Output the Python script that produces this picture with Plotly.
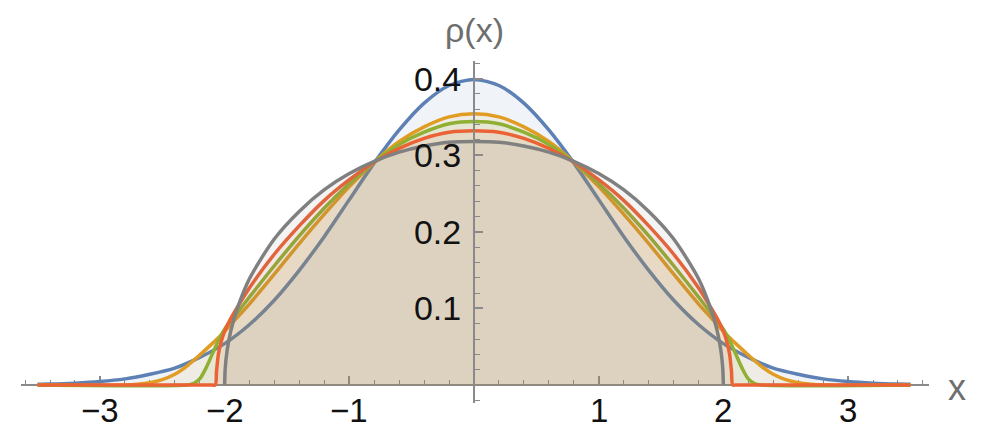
import plotly.graph_objects as go

# ---------------- data ----------------
BLUE_X = [-3.5, -3.4, -3.2, -3.0, -2.8, -2.6, -2.4, -2.2, -2.0, -1.8, -1.6, -1.4, -1.2, -1.0,
          -0.8, -0.6, -0.4, -0.2, 0.0, 0.2, 0.4, 0.6, 0.8, 1.0, 1.2, 1.4, 1.6, 1.8, 2.0,
          2.2, 2.4, 2.6, 2.8, 3.0, 3.2, 3.4, 3.5]
BLUE_Y = [0.0009, 0.0012, 0.0024, 0.0045, 0.008, 0.014, 0.022, 0.036, 0.054, 0.079, 0.111, 0.150,
          0.194, 0.242, 0.290, 0.333, 0.368, 0.391, 0.399, 0.391, 0.368, 0.333, 0.290, 0.242,
          0.194, 0.150, 0.111, 0.079, 0.054, 0.036, 0.022, 0.014, 0.008, 0.0045, 0.0024,
          0.0012, 0.0009]

ORANGE_X = [-3.5, -2.8, -2.7, -2.6, -2.5, -2.4, -2.3, -2.2, -2.1, -2.0, -1.9, -1.8, -1.6, -1.4,
            -1.2, -1.0, -0.8, -0.6, -0.4, -0.2, 0.0, 0.2, 0.4, 0.6, 0.8, 1.0, 1.2, 1.4, 1.6,
            1.8, 1.9, 2.0, 2.1, 2.2, 2.3, 2.4, 2.5, 2.6, 2.7, 2.8, 3.5]
ORANGE_Y = [0.0, 0.0, 0.001, 0.003, 0.007, 0.014, 0.025, 0.039, 0.054, 0.070, 0.088, 0.106,
            0.145, 0.185, 0.223, 0.259, 0.291, 0.318, 0.337, 0.350, 0.354, 0.350, 0.337,
            0.318, 0.291, 0.259, 0.223, 0.185, 0.145, 0.106, 0.088, 0.070, 0.054, 0.039,
            0.025, 0.014, 0.007, 0.003, 0.001, 0.0, 0.0]

GREEN_X = [-3.5, -2.3, -2.25, -2.2, -2.15, -2.1, -2.05, -2.0, -1.9, -1.8, -1.6, -1.4, -1.2,
           -1.0, -0.8, -0.6, -0.4, -0.2, 0.0, 0.2, 0.4, 0.6, 0.8, 1.0, 1.2, 1.4, 1.6, 1.8,
           1.9, 2.0, 2.05, 2.1, 2.15, 2.2, 2.25, 2.3, 3.5]
GREEN_Y = [0.0, 0.0, 0.002, 0.008, 0.022, 0.040, 0.058, 0.073, 0.094, 0.115, 0.156, 0.195,
           0.231, 0.263, 0.291, 0.314, 0.330, 0.341, 0.344, 0.341, 0.330, 0.314, 0.291,
           0.263, 0.231, 0.195, 0.156, 0.115, 0.094, 0.073, 0.058, 0.040, 0.022, 0.008,
           0.002, 0.0, 0.0]

RED_X = [-3.5, -2.1, -2.075, -2.065, -2.05, -2.03, -2.0, -1.95, -1.9, -1.8, -1.6, -1.4, -1.2,
         -1.0, -0.8, -0.6, -0.4, -0.2, 0.0, 0.2, 0.4, 0.6, 0.8, 1.0, 1.2, 1.4, 1.6, 1.8,
         1.9, 1.95, 2.0, 2.03, 2.05, 2.065, 2.075, 2.1, 3.5]
RED_Y = [0.0, 0.0, 0.0, 0.018, 0.040, 0.055, 0.070, 0.087, 0.101, 0.127, 0.171, 0.208, 0.241,
         0.268, 0.291, 0.309, 0.322, 0.330, 0.332, 0.330, 0.322, 0.309, 0.291, 0.268, 0.241,
         0.208, 0.171, 0.127, 0.101, 0.087, 0.070, 0.055, 0.040, 0.018, 0.0, 0.0, 0.0]

GRAY_X = [-2.0, -1.995, -1.98, -1.95, -1.9, -1.8, -1.6, -1.4, -1.2, -1.0, -0.8, -0.6, -0.4,
          -0.2, 0.0, 0.2, 0.4, 0.6, 0.8, 1.0, 1.2, 1.4, 1.6, 1.8, 1.9, 1.95, 1.98, 1.995, 2.0]
GRAY_Y = [0.0, 0.022, 0.045, 0.071, 0.099, 0.139, 0.191, 0.227, 0.255, 0.276, 0.292, 0.304,
          0.312, 0.317, 0.318, 0.317, 0.312, 0.304, 0.292, 0.276, 0.255, 0.227, 0.191, 0.139,
          0.099, 0.071, 0.045, 0.022, 0.0]

X_TICKS = [-3, -2, -1, 1, 2, 3]
X_TICK_TEXT = ["\u22123", "\u22122", "\u22121", "1", "2", "3"]
Y_TICKS = [0.1, 0.2, 0.3, 0.4]
Y_TICK_TEXT = ["0.1", "0.2", "0.3", "0.4"]

# ---------------- styling ----------------
FA = 0.09
series = [
    (BLUE_X, BLUE_Y, "#5E81B5", (94, 129, 181)),
    (ORANGE_X, ORANGE_Y, "#E19C24", (225, 156, 36)),
    (GREEN_X, GREEN_Y, "#8FB032", (143, 176, 50)),
    (RED_X, RED_Y, "#EB6235", (235, 98, 53)),
    (GRAY_X, GRAY_Y, "#808080", (128, 128, 128)),
]

fig = go.Figure()
for xs, ys, lc, rgb in series:
    fig.add_trace(go.Scatter(
        x=xs, y=ys, mode="lines",
        line=dict(color=lc, width=3.5, shape="spline", smoothing=0.8),
        fill="tozeroy", fillcolor="rgba(%d,%d,%d,%.2f)" % (rgb + (FA,)),
        hoverinfo="skip", showlegend=False,
    ))

W, H = 986, 429
AX = "#8a8a8a"
FONT = "Liberation Sans, Arial, sans-serif"

x_minor = [round(-3.6 + 0.2 * i, 2) for i in range(37)]
y_minor = [round(-0.02 + 0.02 * i, 2) for i in range(23)]

annotations = [
    dict(text=t, x=v, y=(H - 410.5) / H, xref="x", yref="paper",
         xanchor="center", yanchor="middle", showarrow=False,
         font=dict(family=FONT, size=33, color="#111111"))
    for v, t in zip(X_TICKS, X_TICK_TEXT)
]
annotations += [
    dict(text="\u03c1(x)", x=474 / W, y=(H - 30) / H, xref="paper", yref="paper",
         xanchor="center", yanchor="middle", showarrow=False,
         font=dict(family=FONT, size=34, color="#6e6e6e")),
    dict(text="x", x=957 / W, y=(H - 387) / H, xref="paper", yref="paper",
         xanchor="center", yanchor="middle", showarrow=False,
         font=dict(family=FONT, size=36, color="#6e6e6e")),
]

fig.update_layout(
    width=W, height=H,
    margin=dict(l=0, r=0, t=0, b=0),
    paper_bgcolor="white", plot_bgcolor="white",
    showlegend=False,
    xaxis=dict(
        domain=[21 / W, 929 / W], range=[-3.633, 3.649],
        anchor="free", position=44 / H,
        showline=True, linecolor=AX, linewidth=2,
        showgrid=False, zeroline=False,
        tickmode="array", tickvals=X_TICKS, showticklabels=False,
        ticks="inside", ticklen=8, tickwidth=1.5, tickcolor=AX,
        minor=dict(tickmode="array", tickvals=x_minor, ticks="inside",
                   ticklen=4.5, tickwidth=1.2, tickcolor=AX, showgrid=False),
        layer="below traces", automargin=False, fixedrange=True,
    ),
    yaxis=dict(
        domain=[26 / H, 368 / H], range=[-0.0235, 0.423],
        anchor="free", position=474 / W,
        showline=True, linecolor=AX, linewidth=2,
        showgrid=False, zeroline=False,
        tickmode="array", tickvals=Y_TICKS, ticktext=Y_TICK_TEXT,
        ticks="inside", ticklen=8, tickwidth=1.5, tickcolor=AX,
        minor=dict(tickmode="array", tickvals=y_minor, ticks="inside",
                   ticklen=4.5, tickwidth=1.2, tickcolor=AX, showgrid=False),
        tickfont=dict(family=FONT, size=34, color="#111111"),
        ticklabelstandoff=5,
        layer="above traces", automargin=False, fixedrange=True,
    ),
    annotations=annotations,
)

fig.write_html(
    "out.html",
    config={"displayModeBar": False},
    post_script="document.body.style.margin='0px';document.body.style.padding='0px';"
                "document.body.style.overflow='hidden';",
)
